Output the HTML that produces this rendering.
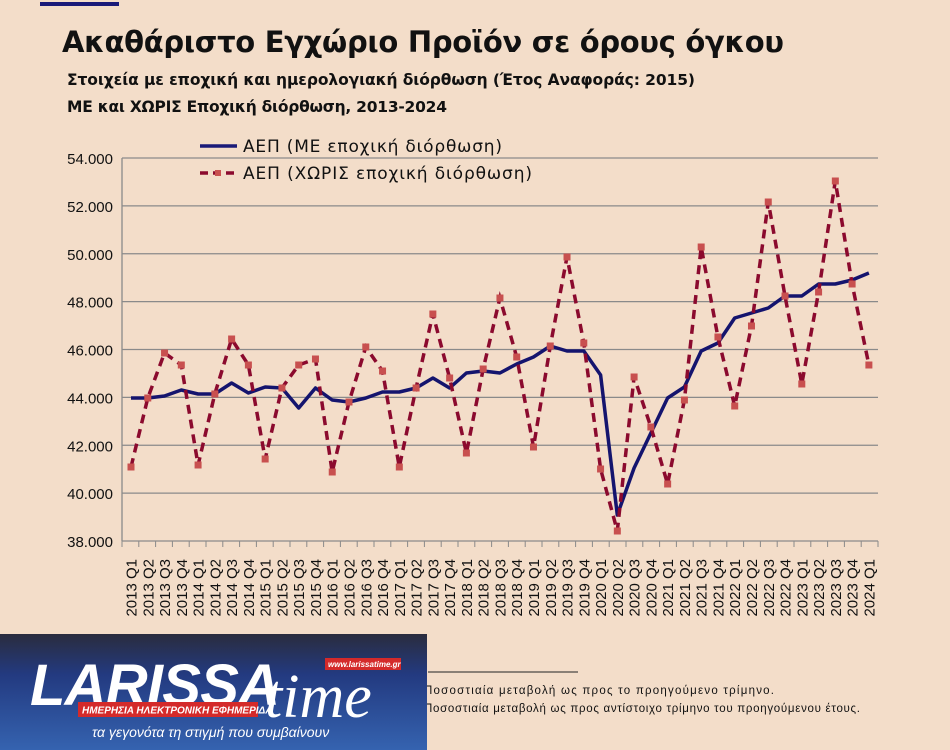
<!DOCTYPE html>
<html><head><meta charset="utf-8"><style>
html,body{margin:0;padding:0;}
body{width:950px;height:750px;background:#f3ddc9;position:relative;overflow:hidden;font-family:"Liberation Sans","DejaVu Sans",sans-serif;}
</style></head><body>
<svg id="s" width="950" height="750" xmlns="http://www.w3.org/2000/svg" style="position:absolute;left:0;top:0">
<rect x="40" y="2" width="79" height="4" fill="#1a1a78"/>
<text x="62" y="52" font-size="29" font-weight="bold" fill="#111" font-family="DejaVu Sans, sans-serif" textLength="722">Ακαθάριστο Εγχώριο Προϊόν σε όρους όγκου</text>
<text x="67" y="85" font-size="15.5" font-weight="bold" fill="#111" font-family="DejaVu Sans, sans-serif" textLength="628">Στοιχεία με εποχική και ημερολογιακή διόρθωση (Έτος Αναφοράς: 2015)</text>
<text x="67" y="112" font-size="15.5" font-weight="bold" fill="#111" font-family="DejaVu Sans, sans-serif" textLength="380">ΜΕ και ΧΩΡΙΣ Εποχική διόρθωση, 2013-2024</text>
<g id="grid"></g>
<line x1="200" y1="146" x2="237" y2="146" stroke="#1a1a78" stroke-width="3.5"/>
<text x="243" y="152" font-size="17" fill="#111" font-family="DejaVu Sans, sans-serif" textLength="259">ΑΕΠ (ΜΕ εποχική διόρθωση)</text>
<line x1="200" y1="173" x2="237" y2="173" stroke="#8b0a2e" stroke-width="3.5" stroke-dasharray="8,5"/>
<rect x="215" y="170" width="6" height="6" fill="#c8504f"/>
<text x="243" y="179" font-size="17" fill="#111" font-family="DejaVu Sans, sans-serif" textLength="289">ΑΕΠ (ΧΩΡΙΣ εποχική διόρθωση)</text>
<g id="series"></g>
<line x1="428" y1="672" x2="578" y2="672" stroke="#222" stroke-width="1"/>
<text x="424" y="694" font-size="11.5" fill="#111" textLength="350">Ποσοστιαία μεταβολή ως προς το προηγούμενο τρίμηνο.</text>
<text x="424" y="712" font-size="11.5" fill="#111" textLength="436">Ποσοστιαία μεταβολή ως προς αντίστοιχο τρίμηνο του προηγούμενου έτους.</text>
<defs><linearGradient id="lg" x1="0" y1="0" x2="0" y2="1"><stop offset="0" stop-color="#2a2c3e"/><stop offset="0.35" stop-color="#233a80"/><stop offset="1" stop-color="#3563b0"/></linearGradient></defs>
<rect x="0" y="634" width="427" height="116" fill="url(#lg)"/>
<text x="30" y="705" font-size="58" font-weight="bold" font-style="italic" fill="#fff" textLength="250">LARISSA</text>
<text x="265" y="717" font-size="62" font-style="italic" fill="#fff" font-family="Liberation Serif, serif">time</text>
<rect x="325" y="658" width="76" height="12" fill="#d42a2a"/>
<text x="328" y="667" font-size="8" font-weight="bold" font-style="italic" fill="#fff">www.larissatime.gr</text>
<rect x="78" y="702" width="180" height="15" fill="#d42a2a"/>
<text x="82" y="713.5" font-size="10" font-weight="bold" font-style="italic" fill="#fff">ΗΜΕΡΗΣΙΑ ΗΛΕΚΤΡΟΝΙΚΗ ΕΦΗΜΕΡΙΔΑ</text>
<text x="92" y="737" font-size="14" font-style="italic" fill="#fff">τα γεγονότα τη στιγμή που συμβαίνουν</text>
</svg>
<script>
var NS="http://www.w3.org/2000/svg",g=document.getElementById('grid'),se=document.getElementById('series');
function el(p,t,a,txt){var e=document.createElementNS(NS,t);for(var k in a)e.setAttribute(k,a[k]);if(txt)e.textContent=txt;p.appendChild(e);return e;}
var labs=["54.000","52.000","50.000","48.000","46.000","44.000","42.000","40.000","38.000"];
for(var i=0;i<9;i++){var y=158+i*47.875;
 el(g,'line',{x1:122,x2:878,y1:y,y2:y,stroke:'#8a8a8a','stroke-width':1.3});
 el(g,'text',{x:113,y:y+6,'font-size':15,'text-anchor':'end',fill:'#111'},labs[i]);}
el(g,'line',{x1:122,x2:122,y1:158,y2:541,stroke:'#8a8a8a','stroke-width':1.3});
for(var i=0;i<=45;i++){var x=122+i*16.8;el(g,'line',{x1:x,x2:x,y1:541,y2:547,stroke:'#8a8a8a','stroke-width':1});}
var blue=[398,398,396,390,394,394,383,393,387,388,408,388,400,402,398,392,392,388,378,388,373,371,373,364,357,346,351,351,375,515,468,433,398,387,351,343,318,313,308,296,296,284,284,280,273];
var red=[467,398,353,365,465,394,339,365,459,388,365,359,472,402,347,371,467,388,314,378,453,369,298,357,447,346,257,343,469,531,377,427,484,400,247,337,406,326,202,296,384,292,181,284,365];
function X(i){return 131+i*16.77;}
var pb='',pr='';
for(var i=0;i<45;i++){pb+=(i?'L':'M')+X(i).toFixed(1)+' '+blue[i];pr+=(i?'L':'M')+X(i).toFixed(1)+' '+red[i];
 var x=X(i),q=(i%4)+1,yr=2013+Math.floor(i/4);
 el(g,'text',{x:0,y:0,'font-size':15,fill:'#111','text-anchor':'end',transform:'translate('+(x+5.5)+',559) rotate(-90)'},yr+' Q'+q);}
el(se,'path',{d:pb,fill:'none',stroke:'#14146e','stroke-width':3.5,'stroke-linejoin':'round'});
el(se,'path',{d:pr,fill:'none',stroke:'#8b0a2e','stroke-width':3.5,'stroke-dasharray':'9,6'});
for(var i=0;i<45;i++)el(se,'rect',{x:X(i)-3.5,y:red[i]-3.5,width:7,height:7,fill:'#c8504f'});
</script>
</body></html>
